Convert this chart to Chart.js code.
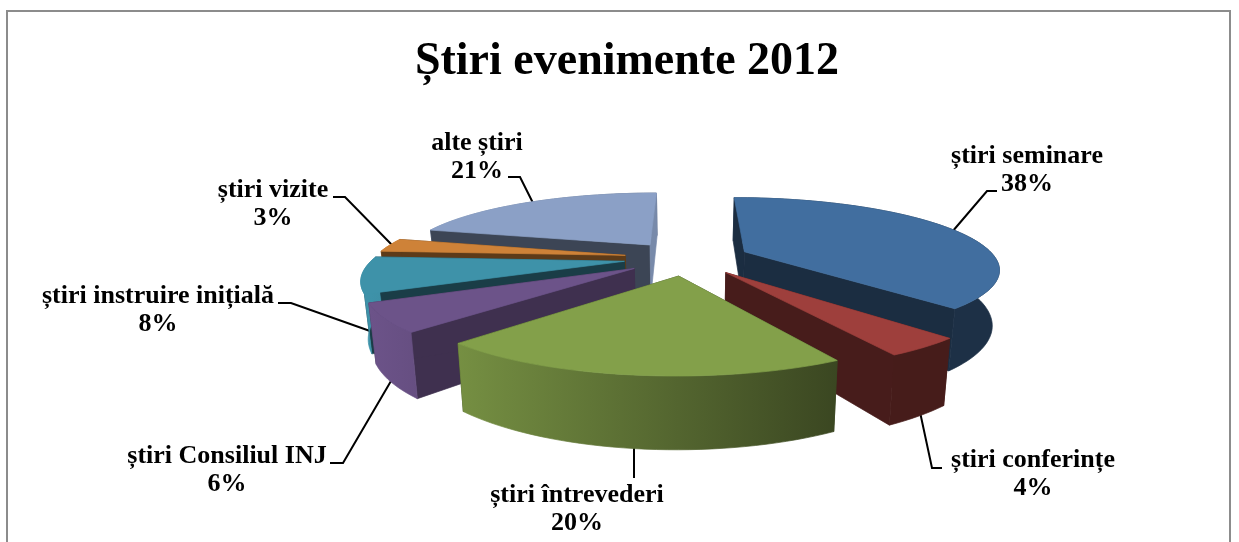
<!DOCTYPE html>
<html lang="ro">
<head>
<meta charset="utf-8">
<title>Știri evenimente 2012</title>
<script src="https://cdn.jsdelivr.net/npm/chart.js@4/dist/chart.umd.js"></script>
<style>
  html, body { margin: 0; padding: 0; background: #fff; overflow: hidden; }
  #wrap { width: 1239px; height: 542px; overflow: hidden; }
  canvas { display: block; filter: blur(0.4px); }
</style>
</head>
<body>
<div id="wrap"><canvas id="grafic" width="1254" height="542"></canvas></div>
<script>
// Date
const titlu = 'Știri evenimente 2012';
const categorii = ['știri seminare', 'știri conferințe', 'știri întrevederi', 'știri Consiliul INJ', 'știri instruire inițială', 'știri vizite', 'alte știri'];
const procente = [38, 4, 20, 6, 8, 3, 21];
const culori = ['#416E9F', '#9E3F3C', '#83A04A', '#6C5389', '#3E92A9', '#CE8238', '#8BA0C6'];
const umbre = [0.41, 0.45, 0.42, 0.58, 0.42, 0.45, 0.43]; // inchidere pereti radiali

// Pozitii etichete (centru text, primul rand) si linii de legatura
const pozEtichete = [[1027, 156], [1033, 460], [577, 495], [227, 456], [158, 296], [273, 190], [477, 143]];
const liniiEtichete = [
  [[997, 191], [987, 191], [952, 232]],
  [[942, 468], [932, 468], [920, 412]],
  [[634, 446], [634, 478]],
  [[330, 463], [343, 463], [391, 381]],
  [[278, 303], [291, 303], [370, 331]],
  [[333, 197], [345, 197], [393, 246]],
  [[508, 177], [520, 177], [534, 205]]
];

// Geometria pseudo-3D
const CX = 687, CY = 258;       // centrul pe ecran
const RAZA = 251, EXPLODARE = 63; // px
const TURTIRE = 0.273, PERSP = 0.22, ADANCIME = 53.5, INGUSTARE = 0.023;
const UMBRA_ALTE = 0.86; // peretele luminat al ultimei felii

function nuanta(hex, f) {
  const n = parseInt(hex.slice(1), 16);
  return `rgb(${Math.round((n >> 16) * f)},${Math.round(((n >> 8) & 255) * f)},${Math.round((n & 255) * f)})`;
}

function proiecteaza(u, v, jos) {
  const s = 1 / (1 - PERSP * v);
  return [CX + u * RAZA * s * (1 - jos * INGUSTARE), CY + v * RAZA * TURTIRE * s + jos * ADANCIME * s];
}

function poligon(ctx, puncte, fill) {
  ctx.beginPath();
  puncte.forEach((p, i) => i ? ctx.lineTo(p[0], p[1]) : ctx.moveTo(p[0], p[1]));
  ctx.closePath();
  ctx.fillStyle = fill;
  ctx.fill();
  // fara linii albe intre fete
  ctx.strokeStyle = fill;
  ctx.lineWidth = 0.7;
  ctx.stroke();
}

function deseneazaFelie(ctx, arc, i) {
  const e = arc.options.offset / arc.outerRadius;
  const mijloc = (arc.startAngle + arc.endAngle) / 2 + Math.PI / 2;
  const u0 = e * Math.sin(mijloc), v0 = -e * Math.cos(mijloc);
  const culoare = culori[i];

  const pasi = Math.max(6, Math.ceil((arc.endAngle - arc.startAngle) * 30));
  const margine = jos => {
    const pts = [];
    for (let k = 0; k <= pasi; k++) {
      const t = arc.startAngle + (arc.endAngle - arc.startAngle) * k / pasi + Math.PI / 2;
      pts.push(proiecteaza(u0 + Math.sin(t), v0 - Math.cos(t), jos));
    }
    return pts;
  };
  const sus = margine(0), jos = margine(1);
  const varfSus = proiecteaza(u0, v0, 0), varfJos = proiecteaza(u0, v0, 1);
  const inchis = nuanta(culoare, umbre[i]);

  // peretii radiali: cei din spate se pun peste peretele exterior
  const pereteStart = () => poligon(ctx, [varfSus, sus[0], jos[0], varfJos], inchis);
  const pereteFinal = () => poligon(ctx, [varfSus, sus[pasi], jos[pasi], varfJos],
    i === procente.length - 1 ? nuanta(culoare, UMBRA_ALTE) : inchis);
  const inSpate = a => Math.cos(a + Math.PI / 2) > 0;

  if (!inSpate(arc.startAngle)) pereteStart();
  if (!inSpate(arc.endAngle)) pereteFinal();

  // peretele exterior: se inchide spre dreapta
  const grad = ctx.createLinearGradient(370, 0, 840, 0);
  grad.addColorStop(0, culoare);
  grad.addColorStop(1, nuanta(culoare, 0.44));
  poligon(ctx, sus.concat(jos.slice().reverse()), grad);

  if (inSpate(arc.startAngle)) pereteStart();
  if (inSpate(arc.endAngle)) pereteFinal();

  // fata de sus
  poligon(ctx, [varfSus].concat(sus), culoare);
}

class Pie3DController extends Chart.PieController {
  static id = 'pie3d';
  draw() {
    const ctx = this.chart.ctx;
    const arce = this.getMeta().data;
    const adanc = a => Math.sin((a.startAngle + a.endAngle) / 2);
    arce.map((a, i) => i)
      .sort((p, q) => adanc(arce[p]) - adanc(arce[q]))
      .forEach(i => deseneazaFelie(ctx, arce[i], i));
  }
}
Chart.register(Pie3DController);

const chenar = {
  id: 'chenar',
  beforeDraw(chart) {
    const ctx = chart.ctx;
    ctx.save();
    ctx.fillStyle = '#fff';
    ctx.fillRect(0, 0, chart.width, chart.height);
    ctx.strokeStyle = '#8c8c8c';
    ctx.lineWidth = 2;
    ctx.strokeRect(7, 11, 1223, 560);
    ctx.restore();
  }
};

const etichete = {
  id: 'etichete',
  beforeDatasetsDraw(chart) {
    const ctx = chart.ctx;
    ctx.save();
    ctx.strokeStyle = '#000';
    ctx.lineWidth = 2;
    liniiEtichete.forEach(l => {
      ctx.beginPath();
      l.forEach((p, i) => i ? ctx.lineTo(p[0], p[1]) : ctx.moveTo(p[0], p[1]));
      ctx.stroke();
    });
    ctx.restore();
  },
  afterDatasetsDraw(chart) {
    const ctx = chart.ctx;
    ctx.save();
    ctx.fillStyle = '#000';
    ctx.font = "bold 26px 'Liberation Serif'";
    ctx.textAlign = 'center';
    ctx.textBaseline = 'middle';
    categorii.forEach((c, i) => {
      const [x, y] = pozEtichete[i];
      ctx.fillText(c, x, y);
      ctx.fillText(procente[i] + '%', x, y + 28);
    });
    ctx.restore();
  }
};

new Chart(document.getElementById('grafic'), {
  type: 'pie3d',
  data: {
    labels: categorii,
    datasets: [{ data: procente, backgroundColor: culori, radius: RAZA, offset: EXPLODARE, borderWidth: 0, clip: false }]
  },
  options: {
    responsive: false,
    animation: false,
    events: [],
    plugins: {
      legend: { display: false },
      tooltip: { enabled: false },
      title: {
        display: true,
        text: titlu,
        color: '#000',
        font: { family: "'Liberation Serif'", size: 46, weight: 'bold' },
        padding: { top: 35, bottom: 0 }
      }
    }
  },
  plugins: [chenar, etichete]
});
</script>
</body>
</html>
